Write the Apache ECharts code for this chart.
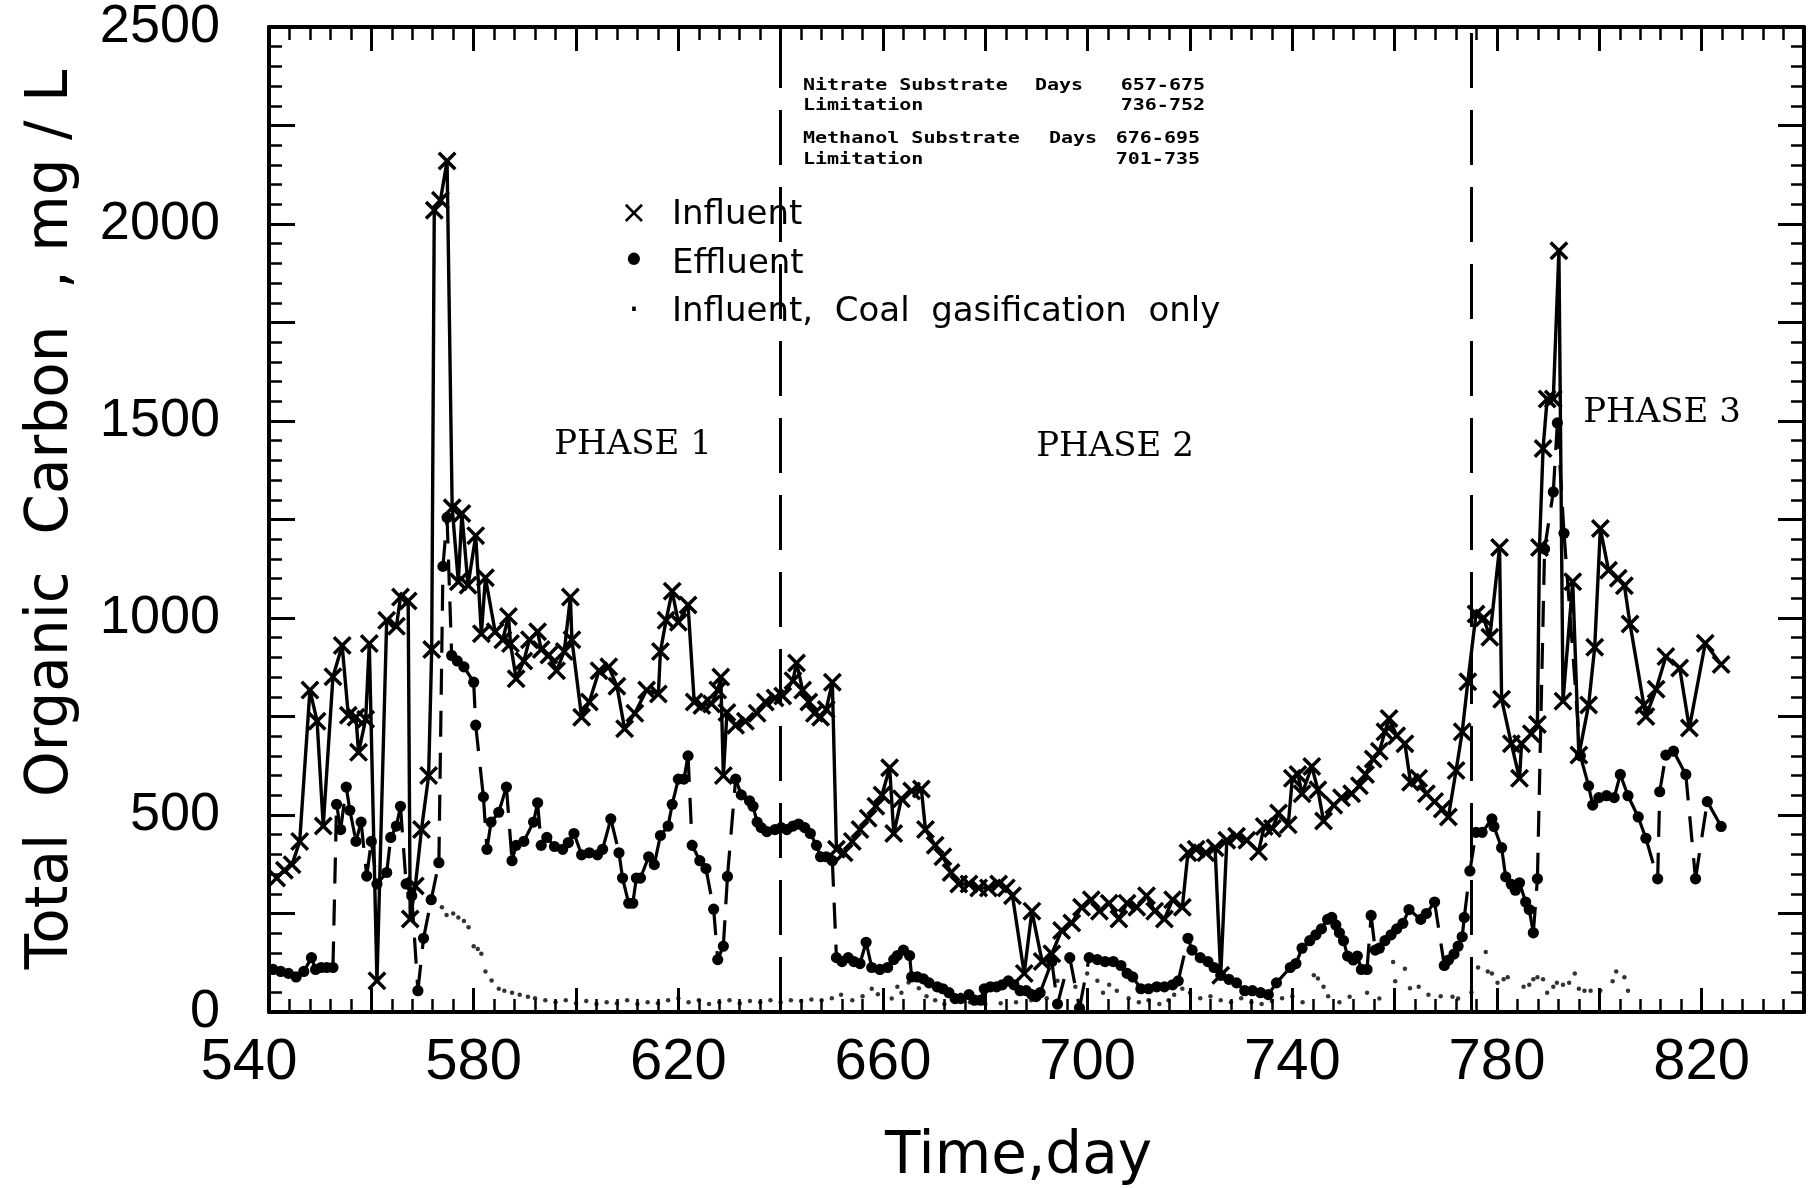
<!DOCTYPE html>
<html>
<head>
<meta charset="utf-8">
<title>Total Organic Carbon</title>
<script src="https://cdn.jsdelivr.net/npm/echarts@6/dist/echarts.min.js"></script>
<style>
  html, body { margin: 0; padding: 0; background: #fff; }
  #chart { width: 1817px; height: 1188px; }
</style>
</head>
<body>
<div id="chart"></div>
<script>
// Influent TOC (mg/L) by day, crosses joined by a solid line
const influent = [
  [541.5,340],[543,360],[544.5,374],[546,433],[548,817],[549.4,738],[550.6,472],[552.5,851],[554.3,930],
  [555.5,753],[557,748],[557.5,659],[558.9,743],[559.6,935],[561.1,79],[563,994],[564.9,979],[565.7,1053],
  [567.2,1043],[567.6,236],[568.6,320],[569.8,463],[571.2,600],[571.8,920],[572.3,2035],[573.5,2060],
  [574.8,2160],[575.8,1280],[577,1092],[577.7,1265],[578.9,1083],[580.4,1209],[581.5,960],[582.3,1102],
  [584.2,965],[585.7,945],[586.8,1004],[587.2,935],[588.3,846],[589.8,891],[590.9,945],[592.5,965],
  [593.2,920],[594.7,906],[596.2,866],[597.7,915],[598.9,1053],[599.2,945],[601.1,748],[602.6,787],
  [604.5,866],[606.4,876],[608,827],[609.5,719],[611.5,758],[613.8,817],[616.1,807],[616.5,915],
  [617.6,994],[618.8,1068],[620,989],[621.9,1033],[623.1,787],[624.6,778],[626.5,782],[627.7,817],
  [628.3,850],[628.8,600],[629.5,760],[631.2,728],[633.1,738],[635.4,758],[637,787],[638.9,797],
  [640.4,802],[642.4,841],[643.1,886],[644.3,817],[645.5,787],[646.6,758],[647.8,748],[648.9,768],
  [650.1,837],[650.9,413],[652.4,404],[654,433],[655.5,463],[657.1,492],[658.6,522],[659.8,551],
  [661.3,620],[662.1,453],[663.6,541],[665.6,561],[667.5,566],[668.3,463],[670.2,423],[671.7,394],
  [673.3,354],[674.8,325],[676.8,325],[678.7,315],[680.6,315],[682.6,325],[684.1,315],[685.3,295],
  [687.6,98],[689.1,256],[691.1,128],[693,148],[694.9,207],[696.9,226],[698.8,266],[700.7,285],
  [702.3,256],[704.2,276],[706.1,236],[707.7,276],[709.6,266],[711.5,295],[713.1,256],[715,236],
  [716.6,285],[718.5,266],[719.6,404],[721.2,413],[723.1,404],[724.9,417],[726,93],[727.2,436],
  [729.1,446],[731.1,436],[733.4,407],[734.5,471],[736.1,466],[737.3,505],[739.2,475],[740,593],
  [741.1,603],[741.9,554],[743.8,623],[745,564],[746.1,485],[748.1,525],[749.6,544],[751.6,554],
  [753.1,574],[754.3,603],[755.8,642],[757,662],[758.1,711],[758.9,745],[760.4,701],[762,681],
  [763.1,583],[764.7,593],[766.2,554],[767.8,534],[769.3,515],[770.5,495],[772,613],[773.2,711],
  [774.3,838],[775.9,1010],[777.4,1000],[778.6,951],[780.5,1179],[780.9,794],[782.8,681],[784.4,593],
  [784.8,681],[786.7,706],[787.9,730],[788.3,1179],[789,1430],[789.8,1556],[791,1556],[792.1,1932],
  [792.9,789],[794.8,1092],[796,652],[797.9,779],[799.1,926],[800.2,1227],[801.8,1121],[803.7,1101],
  [804.9,1082],[806,985],[808.7,779],[809.1,750],[811.1,819],[813,902],[815.7,873],[817.6,721],
  [820.7,936],[823.8,882]
];

// Effluent TOC (mg/L) by day, dots joined segment by segment with a dashed pen
const effluent = [
  [540.8,108],[542.3,103],[543.8,98],[545.3,89],[546.8,103],[548.3,138],[549.1,108],[550.2,113],
  [551.3,113],[552.5,113],[553.2,527],[554,463],[555.1,571],[555.8,512],[557,433],[558,482],[559.1,345],
  [560,433],[561.1,325],[563,354],[563.8,443],[564.9,472],[565.7,522],[566.8,325],[567.9,295],[569.1,54],
  [570.2,187],[571.7,285],[573.2,379],[574,1131],[574.8,1255],[575.7,905],[576.8,891],[578.1,876],
  [580,837],[580.4,728],[581.9,546],[582.6,413],[583.4,482],[584.9,507],[586.4,571],[587.5,384],
  [588.3,423],[589.8,433],[591.7,482],[592.5,531],[593.2,423],[594.3,443],[595.8,420],[597.4,413],
  [598.5,430],[599.6,453],[601.1,399],[602.6,404],[604.2,399],[605.2,413],[606.8,490],[608.4,404],
  [609.1,340],[610.3,276],[611.1,276],[611.8,340],[612.6,340],[614.2,394],[615.3,374],[616.5,448],
  [618,472],[618.8,527],[620,591],[621.1,591],[621.9,650],[622.7,423],[624.2,384],[625.4,364],
  [626.9,261],[627.7,133],[628.8,167],[629.6,344],[631.2,591],[632.3,551],[633.9,536],[634.6,522],
  [635.4,482],[636.2,468],[637.3,458],[638.9,463],[640.1,468],[641.2,463],[642.4,472],[643.5,477],
  [644.7,468],[645.8,453],[647,423],[647.8,394],[648.9,394],[650.1,384],[650.9,138],[652,128],
  [653.2,138],[654.3,128],[655.5,123],[656.7,177],[657.8,113],[659.4,108],[660.9,113],[662.1,133],
  [662.8,143],[664,157],[665.2,143],[665.6,89],[666.7,89],[667.9,84],[669,74],[670.6,64],[671.7,59],
  [672.9,49],[674.1,34],[675.2,34],[676.8,44],[677.9,30],[679.1,30],[679.8,59],[681,64],[682.2,64],
  [683.3,69],[684.5,79],[685.6,69],[686.8,54],[688,54],[689.1,44],[689.9,39],[690.7,49],[693,128],
  [694.1,20],[696.5,138],[698.4,10],[700.3,138],[701.9,133],[703.4,128],[705,128],[706.5,118],
  [707.7,98],[708.8,89],[710.4,59],[711.9,59],[713.5,64],[715,64],[716.6,69],[717.7,79],[719.6,187],
  [720.4,157],[722,138],[723.5,128],[724.7,113],[726,93],[727.6,83],[729.1,74],[730.7,54],[732.2,54],
  [733.8,49],[735.3,44],[736.9,74],[739.6,113],[740.7,123],[741.9,162],[743.4,181],[744.6,196],
  [745.7,211],[746.9,235],[747.7,240],[748.5,221],[749.2,201],[750,181],[750.8,142],[751.9,132],
  [752.7,142],[753.5,108],[754.6,108],[755.4,245],[756.2,157],[757,162],[758.1,181],[759.3,196],
  [760.4,211],[761.6,225],[762.8,260],[765.1,235],[766.2,250],[767.8,279],[769.7,118],[770.5,132],
  [771.6,147],[772.4,167],[773.2,191],[773.6,240],[774.7,358],[775.9,456],[777.1,456],[779,490],
  [779.4,471],[780.9,417],[781.7,343],[782.8,324],[783.6,309],[784.4,328],[785.6,279],[786.3,260],
  [787.1,201],[787.9,338],[789.3,1175],[791,1320],[791.8,1495],[793.1,1215],[796.3,650],[797.9,574],
  [798.7,525],[799.9,544],[801.4,549],[802.9,544],[804.1,603],[805.6,549],[807.6,495],[809.1,441],
  [811.4,338],[811.8,559],[813,652],[814.5,662],[816.9,603],[818.8,338],[821.1,534],[823.8,471]
];

// Influent TOC with coal gasification wastewater only (small dots)
const coalInfluent = [
  [573.8,266],[574.7,246],[576,250],[577,240],[578.1,231],[579,215],[580,167],[580.8,160],[581.5,148],
  [582.3,103],[583.5,80],[584.9,59],[586,54],[587.5,49],[589,44],[590.6,39],[592,35],[594,30],[596,25],
  [598,30],[600,22],[602,28],[604,20],[606,25],[608,22],[610,30],[612,20],[614,25],[616,22],[618,30],
  [620,35],[622,25],[624,30],[626,20],[628,25],[630,30],[632,22],[634,28],[636,25],[638,30],[640,25],
  [642,30],[644,28],[646,32],[648,30],[650,35],[651.8,44],[654,30],[656,40],[657.8,59],[659,45],
  [661.7,34],[662.8,64],[663.6,49],[665,75],[667,60],[668.5,40],[670.2,30],[672,20],[674.1,30],
  [675.2,44],[677,25],[680,20],[683,22],[686,25],[689,30],[692,35],[694.1,79],[697.6,64],[699.9,98],
  [701.9,79],[703,49],[704.2,69],[705.7,54],[708,35],[710,25],[711.9,30],[714,20],[715.8,30],
  [716.9,44],[718.5,59],[720,49],[722,35],[724,40],[726,30],[728,25],[730,35],[732,25],[734,20],
  [736,28],[738,35],[740,40],[742,25],[744.2,93],[745,85],[746.1,64],[747,40],[749.2,25],[751.2,39],
  [754.6,49],[757,34],[759.7,127],[760.1,78],[762,110],[763,60],[764.7,64],[766.6,44],[769,40],
  [771.3,39],[772.4,34],[775,50],[776.3,113],[777.8,152],[778.2,103],[779,98],[780.1,74],[781.3,83],
  [782.1,88],[785.2,64],[786.3,69],[787.1,83],[787.9,88],[789,83],[789.8,49],[791,64],[791.7,74],
  [792.9,69],[794.1,74],[795.2,98],[796,59],[797.1,54],[798.3,54],[800.2,54],[802.6,78],[803.3,103],
  [804.9,88],[805.6,54]
];

// Days separating the three operating phases
const phaseBoundaries = [640, 775];
const phaseNames = ['PHASE 1', 'PHASE 2', 'PHASE 3'];

// Labelled ticks
const dayLabels = [540, 580, 620, 660, 700, 740, 780, 820];
const tocLabels = [0, 500, 1000, 1500, 2000, 2500];

// Substrate limitation notes
const substrateNotes = [
  ['Nitrate Substrate', 'Days', '657-675'],
  ['Limitation', '', '736-752'],
  ['Methanol Substrate', 'Days', '676-695'],
  ['Limitation', '', '701-735']
];

const legendRows = [
  { mark: '\u00d7', text: 'Influent' },
  { mark: '\u2022', text: 'Effluent' },
  { mark: '\u00b7', text: 'Influent,  Coal  gasification  only' }
];

const INK = '#000';
const crossPath = 'path://M1.3,0 L5,3.7 L8.7,0 L10,1.3 L6.3,5 L10,8.7 L8.7,10 L5,6.3 L1.3,10 L0,8.7 L3.7,5 L0,1.3 Z';
const tickFont = '"Liberation Sans", sans-serif';

function xAxisDef(position, withLabels) {
  return {
    type: 'value', gridIndex: 0, position: position,
    min: 540, max: 840, interval: 20,
    axisLine: { show: true, onZero: false, lineStyle: { color: INK, width: 4 } },
    axisTick: { show: true, inside: true, length: 24, lineStyle: { color: INK, width: 3 } },
    minorTick: { show: true, splitNumber: 5, length: 13, lineStyle: { color: INK, width: 2.5 } },
    splitLine: { show: false }, minorSplitLine: { show: false },
    axisLabel: withLabels ? {
      show: true, margin: 22, color: INK,
      fontFamily: tickFont, fontSize: 58,
      formatter: function (v) {
        if (dayLabels.indexOf(v) < 0) return '';
        return v === dayLabels[0] ? '{first|' + v + '}' : String(v);
      },
      rich: {
        first: { fontFamily: tickFont, fontSize: 58, color: INK, padding: [0, 40, 0, 0] }
      }
    } : { show: false },
    name: withLabels ? 'Time,day' : '',
    nameLocation: 'middle', nameGap: 117,
    nameTextStyle: { fontFamily: '"DejaVu Sans", sans-serif', fontSize: 58, color: INK,
      padding: [0, 36, 0, 0] }
  };
}

function yAxisDef(position, withLabels) {
  return {
    type: 'value', gridIndex: 0, position: position,
    min: 0, max: 2500, interval: 250,
    axisLine: { show: true, onZero: false, lineStyle: { color: INK, width: 4 } },
    axisTick: { show: true, inside: true, length: 26, lineStyle: { color: INK, width: 3 } },
    minorTick: { show: true, splitNumber: 5, length: 13, lineStyle: { color: INK, width: 2.5 } },
    splitLine: { show: false }, minorSplitLine: { show: false },
    axisLabel: withLabels ? {
      show: true, margin: 49, color: INK,
      fontFamily: tickFont, fontSize: 54,
      formatter: function (v) { return tocLabels.indexOf(v) >= 0 ? String(v) : ''; }
    } : { show: false },
    name: withLabels ? 'Total  Organic  Carbon  , mg / L' : '',
    nameLocation: 'middle', nameGap: 188, nameRotate: 90,
    nameTextStyle: { fontFamily: '"DejaVu Sans", sans-serif', fontSize: 58, color: INK }
  };
}

// Effluent: each point starts its own dashed stroke towards the next one
function renderEffluent(params, api) {
  const i = params.dataIndex;
  const p = api.coord([api.value(0), api.value(1)]);
  const children = [];
  if (i + 1 < effluent.length) {
    const q = api.coord(effluent[i + 1]);
    children.push({
      type: 'line',
      shape: { x1: p[0], y1: p[1], x2: q[0], y2: q[1] },
      style: { stroke: INK, lineWidth: 3.2, lineDash: [26, 16], fill: null }
    });
  }
  children.push({ type: 'circle', shape: { cx: p[0], cy: p[1], r: 5.6 }, style: { fill: INK } });
  return { type: 'group', children: children };
}

// Text blocks placed on the canvas
const graphics = [];
const noteRowsY = [86, 106, 139, 160];
const noteDaysX = [1035, null, 1049, null];
const noteRightX = [1205, 1205, 1200, 1200];
const noteFont = 'bold 16px "DejaVu Sans Mono", "Liberation Mono", monospace';
substrateNotes.forEach(function (row, k) {
  const y = noteRowsY[k];
  graphics.push({ type: 'text', x: 803, y: y, scaleX: 1.25,
    style: { text: row[0], font: noteFont, fill: INK, verticalAlign: 'middle', align: 'left' } });
  if (row[1]) {
    graphics.push({ type: 'text', x: noteDaysX[k], y: y, scaleX: 1.25,
      style: { text: row[1], font: noteFont, fill: INK, verticalAlign: 'middle', align: 'left' } });
  }
  graphics.push({ type: 'text', x: noteRightX[k], y: y, scaleX: 1.25,
    style: { text: row[2], font: noteFont, fill: INK, verticalAlign: 'middle', align: 'right' } });
});

const legendY = [215, 264, 312];
const markSizes = [32, 42, 36];
legendRows.forEach(function (row, k) {
  graphics.push({ type: 'text', x: 634, y: legendY[k],
    style: { text: row.mark, font: markSizes[k] + 'px "DejaVu Sans", sans-serif', fill: INK,
      align: 'center', verticalAlign: 'middle' } });
  graphics.push({ type: 'text', x: 672, y: legendY[k],
    style: { text: row.text, font: '34px "DejaVu Sans", sans-serif', fill: INK,
      align: 'left', verticalAlign: 'middle' } });
});

const phaseLabelPos = [[633, 445], [1115, 447], [1662, 413]];
phaseNames.forEach(function (name, k) {
  graphics.push({ type: 'text', x: phaseLabelPos[k][0], y: phaseLabelPos[k][1],
    style: { text: name, font: '34px "DejaVu Serif", serif', fill: INK,
      align: 'center', verticalAlign: 'middle' } });
});

const chart = echarts.init(document.getElementById('chart'), null, { renderer: 'canvas' });
chart.setOption({
  animation: false,
  backgroundColor: '#fff',
  grid: { left: 269, right: 13, top: 27, bottom: 176, containLabel: false, outerBoundsMode: 'none' },
  xAxis: [xAxisDef('bottom', true), xAxisDef('top', false)],
  yAxis: [yAxisDef('left', true), yAxisDef('right', false)],
  series: [
    {
      name: 'Influent, Coal gasification only',
      type: 'scatter', xAxisIndex: 0, yAxisIndex: 0,
      data: coalInfluent, symbol: 'circle', symbolSize: 4.5,
      itemStyle: { color: INK }, z: 2
    },
    {
      name: 'Effluent',
      type: 'custom', xAxisIndex: 0, yAxisIndex: 0,
      data: effluent, encode: { x: 0, y: 1 }, renderItem: renderEffluent, clip: true, z: 3
    },
    {
      name: 'Influent',
      type: 'line', xAxisIndex: 0, yAxisIndex: 0,
      data: influent, showAllSymbol: true,
      symbol: crossPath, symbolSize: 19, symbolKeepAspect: true,
      lineStyle: { color: INK, width: 3.4 },
      itemStyle: { color: INK },
      z: 4,
      markLine: {
        silent: true, symbol: ['none', 'none'], label: { show: false },
        lineStyle: { color: INK, width: 3, type: [55, 22] },
        data: phaseBoundaries.map(function (d) { return { xAxis: d }; })
      }
    }
  ],
  graphic: graphics
});
</script>
</body>
</html>
